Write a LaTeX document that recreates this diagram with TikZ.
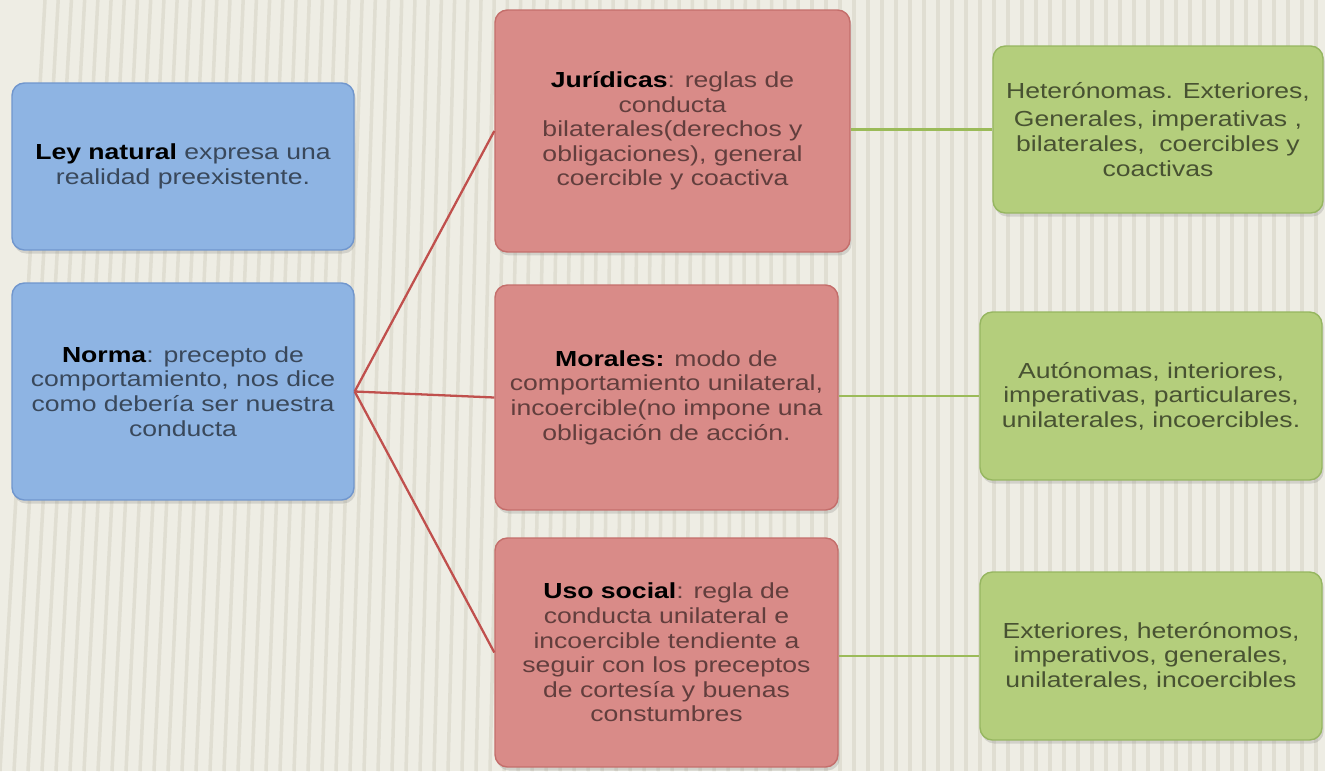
\documentclass[tikz,border=0pt]{standalone}
\usepackage{fontspec}
\setmainfont{Liberation Sans}[FakeStretch=1.22]
\usetikzlibrary{shadows}

\definecolor{fondo}{RGB}{238,237,228}
\definecolor{raya}{RGB}{224,222,210}
\definecolor{azul}{RGB}{142,180,227}
\definecolor{azulborde}{RGB}{112,150,205}
\definecolor{rojo}{RGB}{217,139,136}
\definecolor{rojoborde}{RGB}{196,110,107}
\definecolor{verde}{RGB}{180,206,124}
\definecolor{verdeborde}{RGB}{150,182,96}
\definecolor{lineroja}{RGB}{192,80,77}
\definecolor{lineverde}{RGB}{155,187,89}

\begin{document}
\begin{tikzpicture}[x=0.02cm,y=-0.02cm,
	caja/.style={rounded corners=7pt, line width=0.8pt, align=center, inner sep=4pt,
		drop shadow={opacity=0.25, shadow xshift=1pt, shadow yshift=-2pt},
		font=\fontsize{12.4}{14}\selectfont},
	azulcaja/.style={caja, draw=azulborde, fill=azul, text=black!60!azul},
	rojocaja/.style={caja, draw=rojoborde, fill=rojo, text=black!55!rojo},
	verdecaja/.style={caja, draw=verdeborde, fill=verde, text=black!60!verde},
	rama/.style={draw=lineroja, line width=1.3pt},
	hoja/.style={draw=lineverde, line width=1.6pt}]

	\useasboundingbox (0,0) rectangle (1325,771);

	% background with stripes
	\fill[fondo] (0,0) rectangle (1325,771);
	\foreach \i in {0,14,...,1330} {
		\pgfmathsetmacro\s{max(0,45*(1-\i/800))}
		\draw[raya, line width=2pt] (\i,771) -- (\i+\s,0);
	}

	% left boxes
	\node[azulcaja, minimum width=6.84cm, minimum height=3.34cm] (ley) at (183,166.5)
		{\textcolor{black}{\textbf{Ley natural}} expresa una\\ realidad preexistente.};
	\node[azulcaja, minimum width=6.84cm, minimum height=4.34cm] (norma) at (183,391.5)
		{\textcolor{black}{\textbf{Norma}}: precepto de\\ comportamiento, nos dice\\ como debería ser nuestra\\ conducta};

	% middle boxes
	\node[rojocaja, minimum width=7.1cm, minimum height=4.84cm] (juridicas) at (672.5,131)
		{\textcolor{black}{\textbf{Jurídicas}}: reglas de\\ conducta\\ bilaterales(derechos y\\ obligaciones), general\\ coercible y coactiva};
	\node[rojocaja, minimum width=6.86cm, minimum height=4.5cm] (morales) at (666.5,397.5)
		{\textcolor{black}{\textbf{Morales:}} modo de\\ comportamiento unilateral,\\ incoercible(no impone una\\ obligación de acción.};
	\node[rojocaja, minimum width=6.86cm, minimum height=4.58cm] (uso) at (666.5,652.5)
		{\textcolor{black}{\textbf{Uso social}}: regla de\\ conducta unilateral e\\ incoercible tendiente a\\ seguir con los preceptos\\ de cortesía y buenas\\ constumbres};

	% right boxes
	\node[verdecaja, minimum width=6.6cm, minimum height=3.34cm] (rasgosjur) at (1158,129.5)
		{Heterónomas. Exteriores,\\[2pt] Generales, imperativas ,\\ bilaterales,\ \ coercibles y\\ coactivas};
	\node[verdecaja, minimum width=6.84cm, minimum height=3.36cm] (rasgosmor) at (1151,396)
		{Autónomas, interiores,\\ imperativas, particulares,\\ unilaterales, incoercibles.};
	\node[verdecaja, minimum width=6.84cm, minimum height=3.36cm] (rasgosuso) at (1151,656)
		{Exteriores, heterónomos,\\ imperativos, generales,\\ unilaterales, incoercibles};

	% connectors
	\draw[rama] (norma.east) -- (juridicas.west);
	\draw[rama] (norma.east) -- (morales.west);
	\draw[rama] (norma.east) -- (uso.west);
	\draw[hoja] (rasgosjur.west -| juridicas.east) -- (rasgosjur.west);
	\draw[hoja] (rasgosmor.west -| morales.east) -- (rasgosmor.west);
	\draw[hoja] (rasgosuso.west -| uso.east) -- (rasgosuso.west);

\end{tikzpicture}
\end{document}
